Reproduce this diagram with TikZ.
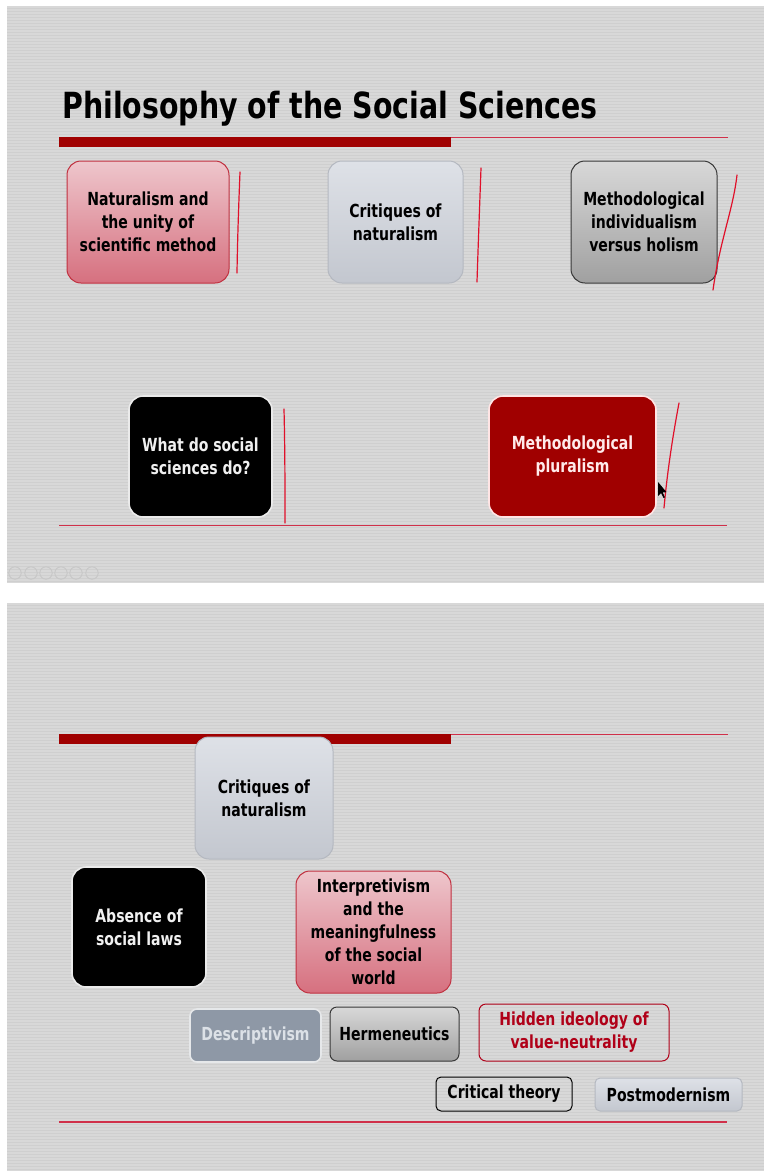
\documentclass[tikz,border=0pt]{standalone}
\usepackage{fontspec}
\setmainfont{DejaVu Sans}[FakeStretch=0.78]
\newfontfamily\titlefont{DejaVu Sans}[FakeStretch=0.79]
\usetikzlibrary{shadings}

\definecolor{slidebg}{HTML}{D8D8D8}
\definecolor{stripe}{HTML}{CFCFCF}
\definecolor{barred}{HTML}{A00000}
\definecolor{rulered}{HTML}{D0304A}
\definecolor{pinktop}{HTML}{EEC6CC}
\definecolor{pinkbot}{HTML}{D6707F}
\definecolor{pinkedge}{HTML}{C0303F}
\definecolor{paletop}{HTML}{DEE1E7}
\definecolor{palebot}{HTML}{C3C7CF}
\definecolor{paleedge}{HTML}{B4B8C0}
\definecolor{graytop}{HTML}{D8D8D8}
\definecolor{graybot}{HTML}{A0A0A0}
\definecolor{grayedge}{HTML}{383838}
\definecolor{descfill}{HTML}{8E98A6}
\definecolor{desctext}{HTML}{DCE1E7}
\definecolor{descedge}{HTML}{E6E8EA}
\definecolor{hiddenred}{HTML}{B00018}
\definecolor{inkred}{HTML}{E0102A}

\tikzset{
  tile/.style={rounded corners=14pt, align=center, inner sep=0pt,
    font=\bfseries\fontsize{18}{23}\selectfont, line width=1pt, text=black},
  chip/.style={tile, rounded corners=7pt},
  pinktile/.style={top color=pinktop, bottom color=pinkbot, draw=pinkedge},
  paletile/.style={top color=paletop, bottom color=palebot, draw=paleedge},
  graytile/.style={top color=graytop, bottom color=graybot, draw=grayedge},
  blacktile/.style={fill=black, draw=white!92!black, line width=1.6pt, text=white!94!black},
  redtile/.style={fill=barred, draw=white!90!red, line width=1.6pt, text=red!8!white},
  desctile/.style={fill=descfill, draw=descedge, line width=1.6pt, text=desctext},
  hiddentile/.style={draw=hiddenred, text=hiddenred},
  plaintile/.style={draw=black},
  ink/.style={draw=inkred, line width=1.2pt, line cap=round},
  thinrule/.style={draw=rulered, line width=1.1pt},
  navicon/.style={draw=black!22, line width=0.9pt}
}

\begin{document}
\begin{tikzpicture}[x=1pt, y=-1pt]
  \useasboundingbox (0,0) rectangle (764,1173);
  \fill[white] (0,0) rectangle (764,1173);

  % the two slide panels with their fine horizontal stripes
  \fill[slidebg] (7,6) rectangle (764,583);
  \fill[slidebg] (7,603) rectangle (764,1171);
  \foreach \y in {8,11,...,581} {\draw[stripe, line width=0.9pt] (7,\y) -- (764,\y);}
  \foreach \y in {605,608,...,1169} {\draw[stripe, line width=0.9pt] (7,\y) -- (764,\y);}

  % ---------- first slide ----------
  \node[anchor=base west, font=\titlefont\bfseries\fontsize{36}{40}\selectfont, inner sep=0pt]
    (title) at (62,118) {Philosophy of the Social Sciences};
  \draw[thinrule] (450,137.5) -- (728,137.5);
  \fill[barred] (59,137) rectangle (451,146.5);

  \node[tile, pinktile, minimum width=162pt, minimum height=122pt] (nat) at (148,222)
    {Naturalism and\\the unity of\\scientific method};
  \node[tile, paletile, minimum width=135pt, minimum height=122pt] (crit) at (395.5,222)
    {Critiques of\\naturalism};
  \node[tile, graytile, minimum width=146pt, minimum height=122pt] (indiv) at (644,222)
    {Methodological\\individualism\\versus holism};
  \node[tile, blacktile, minimum width=143pt, minimum height=121pt] (what) at (200.5,456.5)
    {What do social\\sciences do?};
  \node[tile, redtile, minimum width=167pt, minimum height=121pt] (plur) at (572.5,456.5)
    {Methodological\\pluralism};

  % hand-drawn ticks beside the tiles
  \draw[ink] (240,172) .. controls (238.5,210) and (237.5,240) .. (237,273);
  \draw[ink] (481,168) .. controls (479.5,210) and (478,250) .. (477,282);
  \draw[ink] (737,175) .. controls (733,210) and (720,240) .. (713,290);
  \draw[ink] (284,409) .. controls (285,450) and (285,490) .. (285,523);
  \draw[ink] (679,403) .. controls (672,440) and (667,475) .. (664,508);

  % pointer
  \fill[black] (658,482) -- (658,496) -- (661,493) -- (663.5,498) -- (665,497.3)
    -- (662.6,492.4) -- (666.5,492.2) -- cycle;

  \draw[thinrule] (59,525.5) -- (727,525.5);

  % faint slide navigation buttons
  \foreach \x in {15,31,46,61,76,92} {\draw[navicon] (\x,573) circle (6.2);}

  % ---------- second slide ----------
  \draw[thinrule] (450,734.5) -- (728,734.5);
  \fill[barred] (59,734) rectangle (451,743.5);

  \node[tile, paletile, minimum width=138pt, minimum height=122pt] (crit2) at (264,798)
    {Critiques of\\naturalism};
  \node[tile, blacktile, minimum width=134pt, minimum height=120pt] (absence) at (139,927)
    {Absence of\\social laws};
  \node[tile, pinktile, minimum width=155pt, minimum height=122pt] (interp) at (373.5,932)
    {Interpretivism\\and the\\meaningfulness\\of the social\\world};

  \node[chip, desctile, minimum width=131pt, minimum height=53pt] (desc) at (255.5,1035.5)
    {Descriptivism};
  \node[chip, graytile, minimum width=129pt, minimum height=54pt] (herm) at (394.5,1034)
    {Hermeneutics};
  \node[chip, hiddentile, minimum width=190pt, minimum height=57pt] (hidden) at (574,1032.5)
    {Hidden ideology of\\value-neutrality};
  \node[chip, plaintile, rounded corners=5pt, minimum width=136pt, minimum height=34pt] (crth) at (504,1094)
    {Critical theory};
  \node[chip, paletile, rounded corners=5pt, minimum width=147pt, minimum height=33pt] (postm) at (668.5,1094.5)
    {Postmodernism};

  \draw[thinrule] (59,1122) -- (727,1122);
\end{tikzpicture}
\end{document}
